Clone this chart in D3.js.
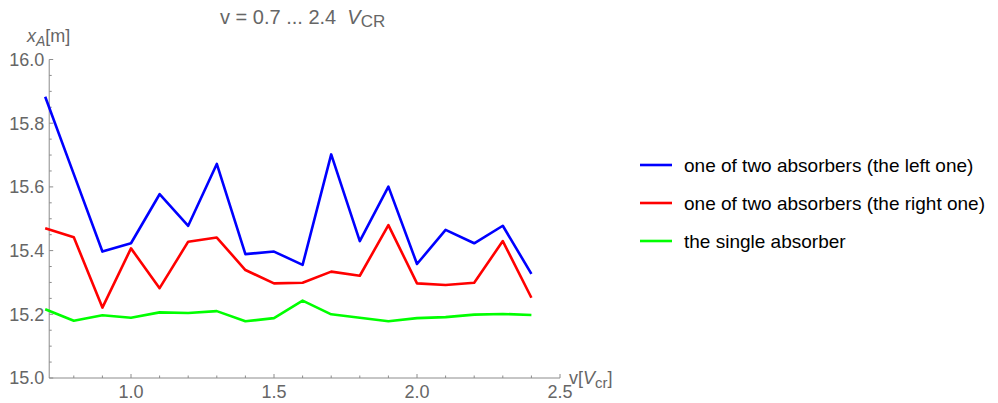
<!DOCTYPE html>
<html>
<head>
<meta charset="utf-8">
<script src="https://cdn.jsdelivr.net/npm/d3@7"></script>
<style>
    body { margin: 0; background: #fff; }
    svg { display: block; font-family: "Liberation Sans", Arial, sans-serif; }
</style>
</head>
<body>
<div class="chart"></div>
<script>
// speeds in units of V_cr
const speeds = [0.7, 0.8, 0.9, 1.0, 1.1, 1.2, 1.3, 1.4, 1.5, 1.6, 1.7, 1.8, 1.9, 2.0, 2.1, 2.2, 2.3, 2.4];

const leftAbsorber = [15.883, 15.64, 15.397, 15.423, 15.577, 15.478, 15.672, 15.389, 15.397,
    15.355, 15.702, 15.430, 15.601, 15.358, 15.465, 15.423, 15.478, 15.327];

const rightAbsorber = [15.470, 15.442, 15.221, 15.407, 15.282, 15.428, 15.441, 15.339, 15.297,
    15.299, 15.334, 15.321, 15.480, 15.297, 15.292, 15.299, 15.430, 15.252];

const singleAbsorber = [15.216, 15.180, 15.197, 15.189, 15.206, 15.204, 15.210, 15.178, 15.188,
    15.243, 15.200, 15.189, 15.178, 15.188, 15.191, 15.199, 15.201, 15.198];

const seriesNames = ["one of two absorbers (the left one)", "one of two absorbers (the right one)", "the single absorber"];
const seriesColors = ["#0000ff", "#ff0000", "#00ff00"];

const xTicks = [1.0, 1.5, 2.0, 2.5];
const yTicks = [15.0, 15.2, 15.4, 15.6, 15.8, 16.0];

const width = 998;
const height = 403;
const strokeWidth = 2.6;
const axisColor = "#8c8c8c";
const labelColor = "#666";

const x = d3.scaleLinear().domain([0.7, 2.5]).range([45.2, 560]);
const y = d3.scaleLinear().domain([15.0, 16.0]).range([378, 59.5]);
const xOrigin = 0.714;

const svg = d3.select(".chart").append("svg")
    .attr("width", width)
    .attr("height", height);

// axes
const xMinor = d3.range(8, 25).map(d => d / 10).filter(d => !xTicks.includes(d));
const yMinor = d3.range(0, 21).map(d => 15 + d * 0.05).filter(d => !yTicks.some(t => Math.abs(t - d) < 1e-6));

const axes = svg.append("g").attr("stroke", axisColor).attr("stroke-width", 1);

axes.append("line")
    .attr("x1", x(xOrigin)).attr("x2", x(2.5))
    .attr("y1", y(15)).attr("y2", y(15));

axes.append("line")
    .attr("x1", x(xOrigin)).attr("x2", x(xOrigin))
    .attr("y1", y(15)).attr("y2", y(16));

axes.selectAll(".xmajor").data(xTicks).join("line")
    .attr("x1", d => x(d)).attr("x2", d => x(d))
    .attr("y1", y(15)).attr("y2", y(15) - 4);

axes.selectAll(".xminor").data(xMinor).join("line")
    .attr("x1", d => x(d)).attr("x2", d => x(d))
    .attr("y1", y(15)).attr("y2", y(15) - 2.5);

axes.selectAll(".ymajor").data(yTicks).join("line")
    .attr("x1", x(xOrigin)).attr("x2", x(xOrigin) + 4)
    .attr("y1", d => y(d)).attr("y2", d => y(d));

axes.selectAll(".yminor").data(yMinor).join("line")
    .attr("x1", x(xOrigin)).attr("x2", x(xOrigin) + 2.5)
    .attr("y1", d => y(d)).attr("y2", d => y(d));

svg.append("g").selectAll("text").data(xTicks).join("text")
    .attr("x", d => x(d))
    .attr("y", y(15) + 20)
    .attr("text-anchor", "middle")
    .attr("fill", labelColor)
    .attr("font-size", 18)
    .text(d => d.toFixed(1));

svg.append("g").selectAll("text").data(yTicks).join("text")
    .attr("x", x(xOrigin) - 5)
    .attr("y", d => y(d))
    .attr("dy", "0.35em")
    .attr("text-anchor", "end")
    .attr("fill", labelColor)
    .attr("font-size", 18)
    .text(d => d.toFixed(1));

// axis labels
const yLabel = svg.append("text")
    .attr("x", 27).attr("y", 42)
    .attr("fill", labelColor)
    .attr("font-size", 18);
yLabel.append("tspan").attr("font-style", "italic").text("x");
yLabel.append("tspan").attr("font-style", "italic").attr("font-size", 14).attr("dy", 4).text("A");
yLabel.append("tspan").attr("dy", -4).text("[m]");

const xLabel = svg.append("text")
    .attr("x", 569).attr("y", 384)
    .attr("fill", labelColor)
    .attr("font-size", 18);
xLabel.append("tspan").text("v[");
xLabel.append("tspan").attr("font-style", "italic").text("V");
xLabel.append("tspan").attr("font-size", 15).attr("dy", 4).text("cr");
xLabel.append("tspan").attr("dy", -4).text("]");

// title
const title = svg.append("text")
    .attr("x", 220).attr("y", 24)
    .attr("fill", labelColor)
    .attr("font-size", 20)
    .attr("xml:space", "preserve");
title.append("tspan").text("v = 0.7 ... 2.4  ");
title.append("tspan").attr("font-style", "italic").text("V");
title.append("tspan").attr("font-size", 17).attr("dy", 3).text("CR");

// lines
const seriesData = [leftAbsorber, rightAbsorber, singleAbsorber];

const line = d3.line()
    .x((d, i) => x(speeds[i]))
    .y(d => y(d));

svg.append("g").selectAll("path").data(seriesData).join("path")
    .attr("fill", "none")
    .attr("stroke", (d, i) => seriesColors[i])
    .attr("stroke-width", strokeWidth)
    .attr("stroke-linejoin", "round")
    .attr("d", line);

// legend
const legend = svg.append("g").attr("transform", "translate(640,165)");

const legendItem = legend.selectAll("g").data(seriesNames).join("g")
    .attr("transform", (d, i) => `translate(0,${i * 38})`);

legendItem.append("line")
    .attr("x1", 0).attr("x2", 32)
    .attr("stroke", (d, i) => seriesColors[i])
    .attr("stroke-width", strokeWidth);

legendItem.append("text")
    .attr("x", 44)
    .attr("dy", "0.35em")
    .attr("font-size", 19)
    .attr("fill", "#000")
    .text(d => d);
</script>
</body>
</html>
